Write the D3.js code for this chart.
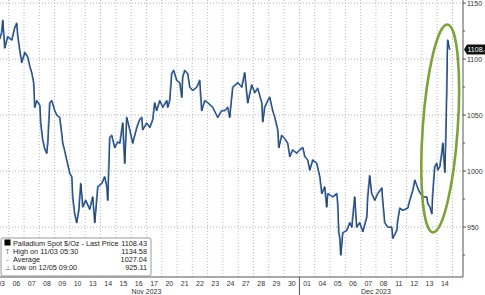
<html>
<head>
<script src="https://d3js.org/d3.v7.min.js"></script>
<style>
  body { margin: 0; background: #fff; }
  text { font-family: "Liberation Sans", Arial, sans-serif; }
</style>
</head>
<body>
<svg id="chart" width="485" height="295"></svg>
<script>
// trading-day position (0 = start of Nov 03) and spot price
const tradeTime = [0.40,0.53,0.60,0.73,0.92,1.19,1.38,1.51,1.58,1.71,1.84,2.04,2.23,2.36,2.49,2.62,2.69,2.82,3.02,3.08,
  3.21,3.34,3.47,3.54,3.67,3.80,4.00,4.13,4.32,4.45,4.52,4.65,4.78,4.98,5.11,5.17,5.30,5.43,5.57,5.63,
  5.70,5.83,6.02,6.28,6.48,6.61,6.81,7.07,7.26,7.40,7.46,7.59,7.72,7.92,8.11,8.25,8.44,8.57,8.70,8.90,
  9.09,9.36,9.55,9.68,9.75,10.01,10.21,10.40,10.53,10.66,10.86,11.06,11.32,11.38,11.51,11.64,11.77,11.97,12.17,12.30,
  12.36,12.49,12.69,12.82,13.02,13.28,13.47,13.60,13.80,14.00,14.32,14.65,14.91,15.11,15.30,15.43,15.63,15.96,16.22,16.41,
  16.61,16.87,17.07,17.26,17.53,17.59,17.72,17.92,18.05,18.24,18.38,18.57,18.64,18.83,19.03,19.22,19.36,19.55,19.81,20.01,
  20.21,20.34,20.53,20.66,20.86,21.12,21.32,21.45,21.64,21.77,21.84,22.17,22.43,22.49,22.56,22.62,22.69,22.82,23.08,23.28,
  23.41,23.60,23.73,23.93,24.13,24.39,24.45,24.58,24.71,24.91,25.11,25.37,25.43,25.56,25.76,26.02,26.09,26.35,26.41,26.55,
  26.74,27.07,27.20,27.40,27.53,27.72,27.85,28.05,28.31,28.38,28.51,28.64,28.70,28.83,28.96,29.03,29.16,29.29,29.36,29.49,
  29.55,29.62,29.65,29.68,29.75,29.81];
const price = [1118,1124,1134.58,1110,1120,1117,1128,1132,1121,1108,1097,1106,1102,1094,1088,1079,1057,1063,1059,1043,
  1028,1020,1016,1025,1061,1063,1054,1050,1048,1034,1025,1018,1010,998,995,977,962,954,965,977,
  989,968,974,966,977,954,986,989,995,986,974,1030,1032,1021,1026,1025,1043,1007,1048,1037,
  1025,1039,1046,1048,1037,1043,1039,1046,1061,1054,1063,1057,1063,1057,1063,1087,1090,1081,1079,1066,
  1084,1090,1087,1075,1072,1075,1081,1054,1063,1061,1057,1048,1054,1054,1057,1048,1075,1079,1075,1088,
  1061,1077,1070,1074,1061,1044,1057,1063,1066,1054,1048,1037,1021,1032,1029,1025,1013,1019,1016,1019,
  1021,1013,1010,1001,1010,1007,995,980,986,968,980,977,980,971,945,941,925.11,945,947,954,
  950,977,950,954,946,959,977,996,980,974,980,985,974,954,950,950,940,947,956,967,
  965,967,974,983,992,985,981,977,977,971,968,962,980,1004,1007,1001,1004,1016,1025,999,
  1028,1075,1105,1117,1112,1108.43];

const dayLabels = ["03","06","07","08","09","10","13","14","15","16","17","20","21","22","23","24","27","28","29","30",
  "01","04","05","06","07","08","11","12","13","14"];
const months = [{name: "Nov 2023", from: 0, to: 20}, {name: "Dec 2023", from: 20, to: 30}];
const yTicks = [950, 1000, 1050, 1100, 1150];
const yMinor = [925, 975, 1025, 1075, 1125];
const legendRows = [
  {sym: "box", label: "Palladium Spot $/Oz - Last Price", value: "1108.43"},
  {sym: "T", label: "High on 11/03 05:30", value: "1134.58"},
  {sym: "-", label: "Average", value: "1027.04"},
  {sym: "⊥", label: "Low on 12/05 09:00", value: "925.11"}
];
const lastPrice = 1108.43;

const svg = d3.select("#chart");
const plotRight = 463, plotBottom = 277;

const x = d3.scaleLinear().domain([0, 30.69]).range([-6.6, plotRight]);
const y = d3.scaleLinear().domain([905.4, 1152.7]).range([plotBottom, 0]);

svg.append("defs").append("clipPath").attr("id", "plotclip")
  .append("rect").attr("x", 0).attr("y", 0).attr("width", plotRight).attr("height", plotBottom);

const grid = svg.append("g");
// vertical dotted grid at each trading day boundary
grid.selectAll("line.vg").data(d3.range(1, 31))
  .join("line").attr("class", "vg")
  .attr("x1", d => x(d)).attr("x2", d => x(d))
  .attr("y1", 0).attr("y2", plotBottom)
  .attr("stroke", "#b8b8b8").attr("stroke-width", 1)
  .attr("stroke-dasharray", "1,2");
grid.selectAll("line.hg").data(yTicks)
  .join("line").attr("class", "hg")
  .attr("x1", 0).attr("x2", plotRight)
  .attr("y1", d => y(d)).attr("y2", d => y(d))
  .attr("stroke", "#b0b0b0").attr("stroke-dasharray", "1,2");

const points = tradeTime.map((t, i) => [t, price[i]]);
const line = d3.line().x(d => x(d[0])).y(d => y(d[1]));

const plot = svg.append("g").attr("clip-path", "url(#plotclip)");
plot.append("path").datum(points)
  .attr("d", line).attr("fill", "none")
  .attr("stroke", "#4a80cc").attr("stroke-width", 1.6)
  .attr("stroke-linejoin", "round");
plot.append("path").datum(points)
  .attr("d", line).attr("fill", "none")
  .attr("transform", "translate(0.5,0.3)")
  .attr("stroke", "#1b2536").attr("stroke-width", 0.7)
  .attr("stroke-linejoin", "round");

// green highlight ellipse around the final spike
const eTop = y(1131), eBot = y(945), eCx = x(29.2);
svg.append("ellipse")
  .attr("cx", eCx).attr("cy", (eTop + eBot) / 2)
  .attr("rx", 17.5).attr("ry", (eBot - eTop) / 2)
  .attr("transform", `rotate(4,${eCx},${(eTop + eBot) / 2})`)
  .attr("fill", "none").attr("stroke", "#7da23a").attr("stroke-width", 2.6);

// axes
svg.append("line").attr("x1", plotRight).attr("x2", plotRight).attr("y1", 0).attr("y2", plotBottom)
  .attr("stroke", "#555");
svg.append("line").attr("x1", 0).attr("x2", plotRight).attr("y1", plotBottom).attr("y2", plotBottom)
  .attr("stroke", "#555");

svg.selectAll("line.ytick").data(yTicks.concat(yMinor))
  .join("line").attr("class", "ytick")
  .attr("x1", plotRight).attr("x2", d => yTicks.includes(d) ? plotRight + 3 : plotRight + 2)
  .attr("y1", d => y(d)).attr("y2", d => y(d))
  .attr("stroke", "#555");
svg.selectAll("text.ylab").data(yTicks)
  .join("text").attr("class", "ylab")
  .attr("x", plotRight + 4).attr("y", d => y(d) + 2.5)
  .attr("font-size", 7).attr("fill", "#333")
  .text(d => d);

svg.selectAll("text.xlab").data(dayLabels)
  .join("text").attr("class", "xlab")
  .attr("x", (d, i) => x(i + 0.5)).attr("y", 286)
  .attr("text-anchor", "middle").attr("font-size", 7).attr("fill", "#333")
  .text(d => d);
svg.selectAll("text.mlab").data(months)
  .join("text").attr("class", "mlab")
  .attr("x", d => x((d.from + d.to) / 2)).attr("y", 294)
  .attr("text-anchor", "middle").attr("font-size", 7).attr("fill", "#333")
  .text(d => d.name);
svg.append("line").attr("x1", x(20)).attr("x2", x(20)).attr("y1", plotBottom).attr("y2", 295)
  .attr("stroke", "#555");

// last price tag
const ly = y(lastPrice);
svg.append("path")
  .attr("d", `M${plotRight + 1},${ly} L${plotRight + 4},${ly - 5} L487,${ly - 5} L487,${ly + 5} L${plotRight + 4},${ly + 5} Z`)
  .attr("fill", "#111");
svg.append("text").attr("x", plotRight + 4.5).attr("y", ly + 2.5)
  .attr("font-size", 7).attr("fill", "#fff").text(lastPrice.toFixed(2));

// legend
const lg = svg.append("g");
lg.append("rect").attr("x", 1).attr("y", 238).attr("width", 150).attr("height", 38)
  .attr("rx", 2).attr("fill", "#fff").attr("stroke", "#999");
legendRows.forEach((r, i) => {
  const ry = 245.5 + i * 8.2;
  if (r.sym === "box") {
    lg.append("rect").attr("x", 4.5).attr("y", ry - 6).attr("width", 6).attr("height", 6).attr("fill", "#000");
  } else {
    lg.append("text").attr("x", 7.5).attr("y", ry).attr("text-anchor", "middle")
      .attr("font-size", 7).attr("fill", "#777").text(r.sym);
  }
  lg.append("text").attr("x", 13).attr("y", ry).attr("font-size", 7.3).attr("fill", "#222").text(r.label);
  lg.append("text").attr("x", 147).attr("y", ry).attr("text-anchor", "end")
    .attr("font-size", 7.3).attr("fill", "#222").text(r.value);
});
</script>
</body>
</html>
